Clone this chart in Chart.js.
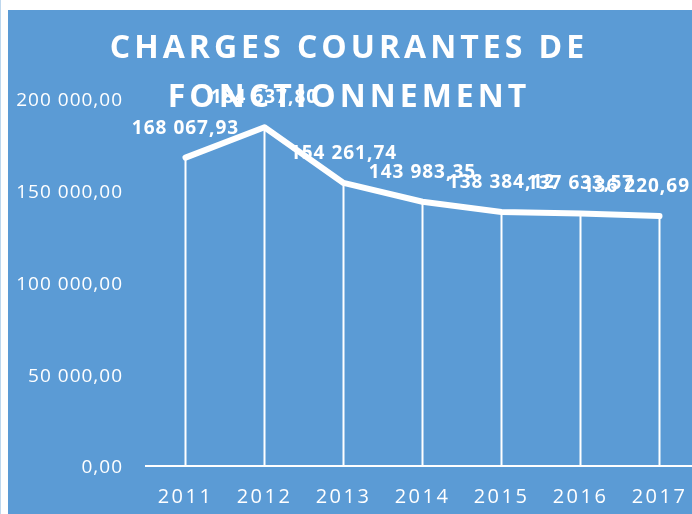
<!DOCTYPE html>
<html>
<head>
<meta charset="utf-8">
<script src="https://cdn.jsdelivr.net/npm/chart.js@4/dist/chart.umd.min.js"></script>
<style>
  html, body { margin: 0; padding: 0; width: 692px; height: 514px; overflow: hidden; background: #fff; }
  #edge { position: absolute; left: 0; top: 0; width: 1px; height: 514px; background: #bdd7ee; }
  #panel { position: absolute; left: 8px; top: 10px; width: 684px; height: 504px; background: #5b9bd5; overflow: hidden; }
  #wrap { position: absolute; left: 0; top: 0; width: 700px; height: 504px; }
</style>
</head>
<body>
<div id="edge"></div>
<div id="panel">
  <div id="wrap"><canvas id="chart"></canvas></div>
</div>
<script>
const years = ['2011', '2012', '2013', '2014', '2015', '2016', '2017']
const charges = [168067.93, 184637.80, 154261.74, 143983.35, 138384.12, 137633.57, 136220.69]
const titleLines = ['CHARGES COURANTES DE', 'FONCTIONNEMENT']
const yTicks = [0, 50000, 100000, 150000, 200000]

// 168067.93 -> "168 067,93"
function formatFr(v) {
    const parts = v.toFixed(2).split('.')
    return parts[0].replace(/\B(?=(\d{3})+(?!\d))/g, ' ') + ',' + parts[1]
}

Chart.defaults.font.family = "'Open Sans', sans-serif"
Chart.defaults.color = '#ffffff'

// y labels get a little spacing, the x labels (drawn later, ticks.z: 1) get more
const spacingPlugin = {
    id: 'spacing',
    beforeDraw(chart) {
        chart.ctx.letterSpacing = '1px'
    }
}

// thin vertical drop lines from each point down to the x axis
const dropLines = {
    id: 'dropLines',
    beforeDatasetsDraw(chart) {
        const ctx = chart.ctx
        const meta = chart.getDatasetMeta(0)
        const bottom = chart.scales.y.getPixelForValue(0)
        ctx.save()
        ctx.strokeStyle = '#ffffff'
        ctx.lineWidth = 2
        meta.data.forEach(pt => {
            ctx.beginPath()
            ctx.moveTo(pt.x, pt.y)
            ctx.lineTo(pt.x, bottom)
            ctx.stroke()
        })
        ctx.restore()
    }
}

const valueLabels = {
    id: 'valueLabels',
    afterDatasetsDraw(chart) {
        const ctx = chart.ctx
        const meta = chart.getDatasetMeta(0)
        const maxRight = chart.width - 18
        ctx.save()
        ctx.fillStyle = '#ffffff'
        ctx.font = "bold 19px 'Open Sans', sans-serif"
        ctx.textAlign = 'center'
        ctx.textBaseline = 'alphabetic'
        meta.data.forEach((pt, i) => {
            const text = formatFr(charges[i])
            const w = ctx.measureText(text).width
            // keep the label inside the panel like the original does
            const x = Math.min(pt.x, maxRight - w / 2)
            ctx.fillText(text, x, pt.y - 24)
        })
        ctx.restore()
        ctx.letterSpacing = '2.5px'
    }
}

const chartTitle = {
    id: 'chartTitle',
    afterDraw(chart) {
        const ctx = chart.ctx
        ctx.save()
        ctx.fillStyle = '#ffffff'
        ctx.font = "bold 32px 'Open Sans', sans-serif"
        ctx.letterSpacing = '4px'
        ctx.textAlign = 'center'
        ctx.textBaseline = 'alphabetic'
        ctx.fillText(titleLines[0], 341, 48)
        ctx.fillText(titleLines[1], 341, 97)
        ctx.restore()
    }
}

new Chart(document.getElementById('chart'), {
    type: 'line',
    data: {
        labels: years,
        datasets: [{
            data: charges,
            borderColor: '#ffffff',
            borderWidth: 6,
            borderCapStyle: 'round',
            borderJoinStyle: 'round',
            pointRadius: 0,
            tension: 0,
            fill: false
        }]
    },
    options: {
        responsive: true,
        maintainAspectRatio: false,
        animation: false,
        layout: { padding: { left: 0, right: 9, top: 89, bottom: 0 } },
        plugins: {
            legend: { display: false },
            title: { display: false },
            tooltip: { enabled: false }
        },
        scales: {
            x: {
                offset: true,
                grid: { display: false, drawTicks: false },
                border: { display: true, color: '#ffffff', width: 2 },
                ticks: { z: 1, color: '#ffffff', font: { size: 20 }, padding: 19, maxRotation: 0 },
                afterFit: scale => { scale.height = 48 }
            },
            y: {
                min: 0,
                max: 200000,
                grid: { display: false, drawTicks: false },
                border: { display: false },
                afterBuildTicks: scale => { scale.ticks = yTicks.map(v => ({ value: v })) },
                ticks: {
                    color: '#ffffff',
                    font: { size: 19 },
                    padding: 23,
                    labelOffset: 2,
                    callback: v => formatFr(v)
                },
                afterFit: scale => { scale.width = 138 }
            }
        }
    },
    plugins: [spacingPlugin, dropLines, valueLabels, chartTitle]
})
</script>
</body>
</html>
